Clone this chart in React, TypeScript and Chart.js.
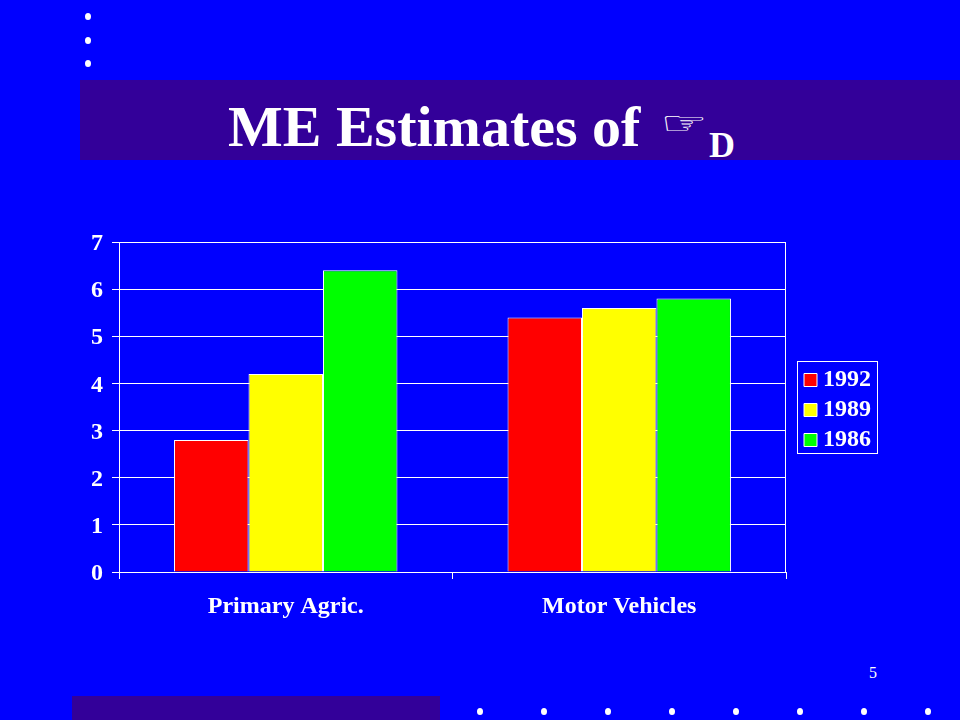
import React, { useEffect, useRef } from "react";
import { Chart, registerables } from "chart.js";

Chart.register(...registerables);

const categories = ["Primary Agric.", "Motor Vehicles"];
const series1992 = [2.8, 5.4];
const series1989 = [4.2, 5.6];
const series1986 = [6.4, 5.8];
const yTicks = [0, 1, 2, 3, 4, 5, 6, 7];
const topDots = [16, 40, 63];
const bottomDots = [480, 544, 608, 672, 736, 800, 864, 928];

const SERIF = '"Liberation Serif", "Times New Roman", serif';

const framePlugin = {
  id: "frame",
  afterLayout(chart: any) {
    const l = chart.legend;
    l.left = 798;
    l.right = 871;
    l.top = 345;
    l.bottom = 475;
  },
  beforeDatasetsDraw(chart: any) {
    const { ctx, chartArea: a } = chart;
    ctx.save();
    ctx.strokeStyle = "#fff";
    ctx.lineWidth = 1;
    ctx.strokeRect(a.left + 0.5, a.top + 0.5, a.right - a.left - 1, a.bottom - a.top);
    ctx.restore();
  },
  afterDraw(chart: any) {
    const { ctx } = chart;
    ctx.save();
    ctx.strokeStyle = "#fff";
    ctx.lineWidth = 1;
    ctx.strokeRect(797.5, 361.5, 80, 92);
    ctx.restore();
  },
};

export default function App() {
  const ref = useRef<HTMLCanvasElement>(null);
  useEffect(() => {
    const chart = new Chart(ref.current!, {
      type: "bar",
      data: {
        labels: categories,
        datasets: [
          { label: "1992", data: series1992, backgroundColor: "#ff0000" },
          { label: "1989", data: series1989, backgroundColor: "#ffff00" },
          { label: "1986", data: series1986, backgroundColor: "#00ff00" },
        ].map((d) => ({ ...d, borderColor: "#ffffff", borderWidth: 1, categoryPercentage: 0.67, barPercentage: 1 })),
      },
      options: {
        responsive: false,
        animation: false,
        devicePixelRatio: 1,
        layout: { padding: { top: 242, right: 85, left: 0, bottom: 0 } },
        plugins: {
          tooltip: { enabled: false },
          legend: {
            position: "right",
            labels: {
              boxWidth: 13,
              boxHeight: 13,
              padding: 6,
              textAlign: "right",
              color: "#ffffff",
              font: { family: SERIF, size: 24, weight: "bold" },
            },
          },
        },
        scales: {
          x: {
            offset: true,
            afterFit(s: any) { s.height = 148; },
            border: { color: "#fff", width: 1 },
            grid: { color: "#fff", drawOnChartArea: false, tickLength: 7, offset: true },
            ticks: {
              color: "#fff",
              padding: 13,
              maxRotation: 0,
              font: { family: SERIF, size: 24, weight: "bold" },
            },
          },
          y: {
            min: 0,
            max: 7,
            afterBuildTicks(s: any) { s.ticks = yTicks.map((value) => ({ value })); },
            afterFit(s: any) { s.width = 119; },
            border: { color: "#fff", width: 1 },
            grid: { color: "#fff", lineWidth: 1, tickLength: 7 },
            ticks: {
              color: "#fff",
              padding: 9,
              labelOffset: 2,
              font: { family: SERIF, size: 24, weight: "bold" },
            },
          },
        },
      } as any,
      plugins: [framePlugin],
    });
    return () => chart.destroy();
  }, []);

  const abs = (o: React.CSSProperties): React.CSSProperties => ({ position: "absolute", ...o });
  const dot = (x: number, y: number) => (
    <div key={x + "-" + y} style={abs({ left: x - 3, top: y - 3.5, width: 6, height: 7, borderRadius: "50%", background: "#fff" })} />
  );

  return (
    <div style={abs({ left: 0, top: 0, width: 960, height: 720, background: "#0000ff", overflow: "hidden", fontFamily: SERIF, color: "#fff" })}>
      <div style={abs({ left: 80, top: 80, width: 880, height: 80, background: "#330099" })} />
      <div style={abs({ left: 72, top: 696, width: 368, height: 24, background: "#330099" })} />
      {topDots.map((y) => dot(88, y))}
      {bottomDots.map((x) => dot(x, 711))}
      <div style={abs({ left: 228, top: 93, fontSize: 58, fontWeight: "bold", lineHeight: "67px", whiteSpace: "nowrap" })}>ME Estimates of</div>
      <div style={abs({ left: 660, top: 97, fontSize: 44, fontWeight: "bold", fontFamily: '"DejaVu Sans"', lineHeight: "52px", whiteSpace: "nowrap", transform: "scale(1.2, 0.72)", transformOrigin: "left center" })}>☞</div>
      <div style={abs({ left: 709, top: 125, fontSize: 36, fontWeight: "bold", lineHeight: "41px", whiteSpace: "nowrap" })}>D</div>
      <div style={abs({ left: 869, top: 664, fontSize: 16, lineHeight: "18px" })}>5</div>
      <canvas ref={ref} width={960} height={720} style={abs({ left: 0, top: 0, width: 960, height: 720 })} />
    </div>
  );
}
